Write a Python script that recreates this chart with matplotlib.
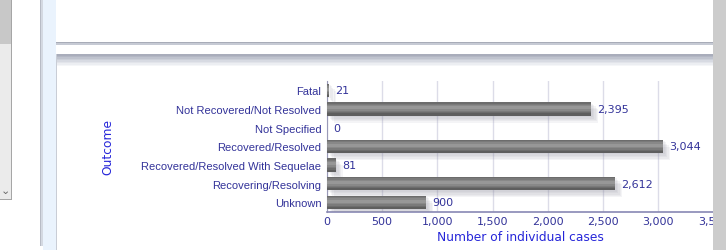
import matplotlib
matplotlib.use('Agg')
import matplotlib.pyplot as plt
from matplotlib.patches import Rectangle
import matplotlib.patheffects as pe


outcomes = ['Fatal', 'Not Recovered/Not Resolved', 'Not Specified', 'Recovered/Resolved',
            'Recovered/Resolved With Sequelae', 'Recovering/Resolving', 'Unknown']
cases = [21, 2395, 0, 3044, 81, 2612, 900]
x_ticks = [0, 500, 1000, 1500, 2000, 2500, 3000, 3500]

W, H = 726, 251
label_col = '#333399'
title_col = '#2626d9'


def px(x0, y0, x1, y1):
    # pixel box (top-left origin) -> figure fraction rect
    return (x0 / W, 1 - y1 / H), (x1 - x0) / W, (y1 - y0) / H


fig = plt.figure(figsize=(W / 100, H / 100), dpi=100, facecolor='white')

#   page chrome around the chart (screenshot background)
def box(x0, y0, x1, y1, color, z=0):
    xy, w, h = px(x0, y0, x1, y1)
    fig.add_artist(Rectangle(xy, w, h, transform=fig.transFigure, facecolor=color, edgecolor='none', zorder=z))

box(0, 0, 11, 45, '#c8c8c8')
box(0, 45, 11, 200, '#ebebeb')
box(11, 0, 12, 201, '#a6a6a6')
box(0, 200, 12, 201, '#a6a6a6')
fig.text(1 / W, 1 - 191 / H, '\u2304', fontsize=8, color='#666666', va='center')
box(40, 0, 41, 247, '#b8bcc6')
box(41, 0, 43, 247, '#d4d9e2')
box(43, 0, 56, 251, '#eaf3fd')
box(56, 0, 713, 43, 'white')
box(56, 43, 713, 44, '#a8acb8')
box(56, 44, 713, 46, '#c6cad4')
shade = ['#a9adbb', '#b3b7c4', '#bfc3ce', '#cbcfd8', '#d7dae2', '#e2e4ea', '#eceef2', '#f5f6f8']
for i, c in enumerate(shade):
    box(56, 55 + i * 1.5, 713, 56.5 + i * 1.5, c)
box(56, 67, 713, 251, 'white')
box(56, 55, 57, 251, '#c9cdd6')

#   chart axes
ax = fig.add_axes([326.9 / W, 38.3 / H, (713.5 - 326.9) / W, 130.7 / H])
ax.set_facecolor('none')
ypos = list(range(len(outcomes)))

# soft drop shadow, built from a few faint offset copies
shadow = [pe.SimplePatchShadow(offset=(o, -o), shadow_rgbFace='#8c8c9c', alpha=0.09) for o in (1, 2, 3, 4, 5)]
shadow.append(pe.Normal())
ax.barh(ypos, cases, height=0.72, color='#5e5e5e', zorder=3, path_effects=shadow)
for h, c in [(0.6, '#6c6c6c'), (0.46, '#7a7a7a'), (0.32, '#888888'), (0.16, '#979797')]:
    ax.barh([y - 0.06 for y in ypos], cases, height=h, color=c, zorder=4)

for y, v in zip(ypos, cases):
    ax.annotate('{:,}'.format(v), (v, y), xytext=(6, 0), textcoords='offset pixels',
                va='center', ha='left', fontsize=8, color=label_col, family='DejaVu Sans', zorder=5)

ax.set_ylim(len(outcomes) - 0.5, -0.5)
ax.set_xlim(0, 3500)
ax.set_yticks(ypos)
ax.set_yticklabels(outcomes, fontsize=8, color=label_col, family='Liberation Sans')
ax.set_xticks(x_ticks)
ax.set_xticklabels(['{:,}'.format(t) for t in x_ticks], fontsize=8, color=label_col, family='DejaVu Sans')
ax.tick_params(axis='both', length=0)
ax.tick_params(axis='y', pad=4)
ax.tick_params(axis='x', pad=3)
ax.grid(axis='x', color='#dcdce8', linewidth=1, zorder=0)
ax.set_axisbelow(True)
for s in ['top', 'right']:
    ax.spines[s].set_visible(False)
ax.spines['left'].set_color('#9a9ab8')
ax.spines['bottom'].set_color('#8888b4')
ax.spines['bottom'].set_linewidth(1.2)
ax.set_xlabel('Number of individual cases', fontsize=8.8, color=title_col, family='DejaVu Sans', labelpad=3)
fig.text(108 / W, 1 - 147 / H, 'Outcome', rotation=90, ha='center', va='center',
         fontsize=8.8, color=title_col, family='DejaVu Sans')

# grey strip on the right edge covers the clipped end of the axis, as in the page
box(713, 0, 726, 251, '#cccccc', z=10)

fig.savefig('out.png', dpi=100, facecolor='white')
